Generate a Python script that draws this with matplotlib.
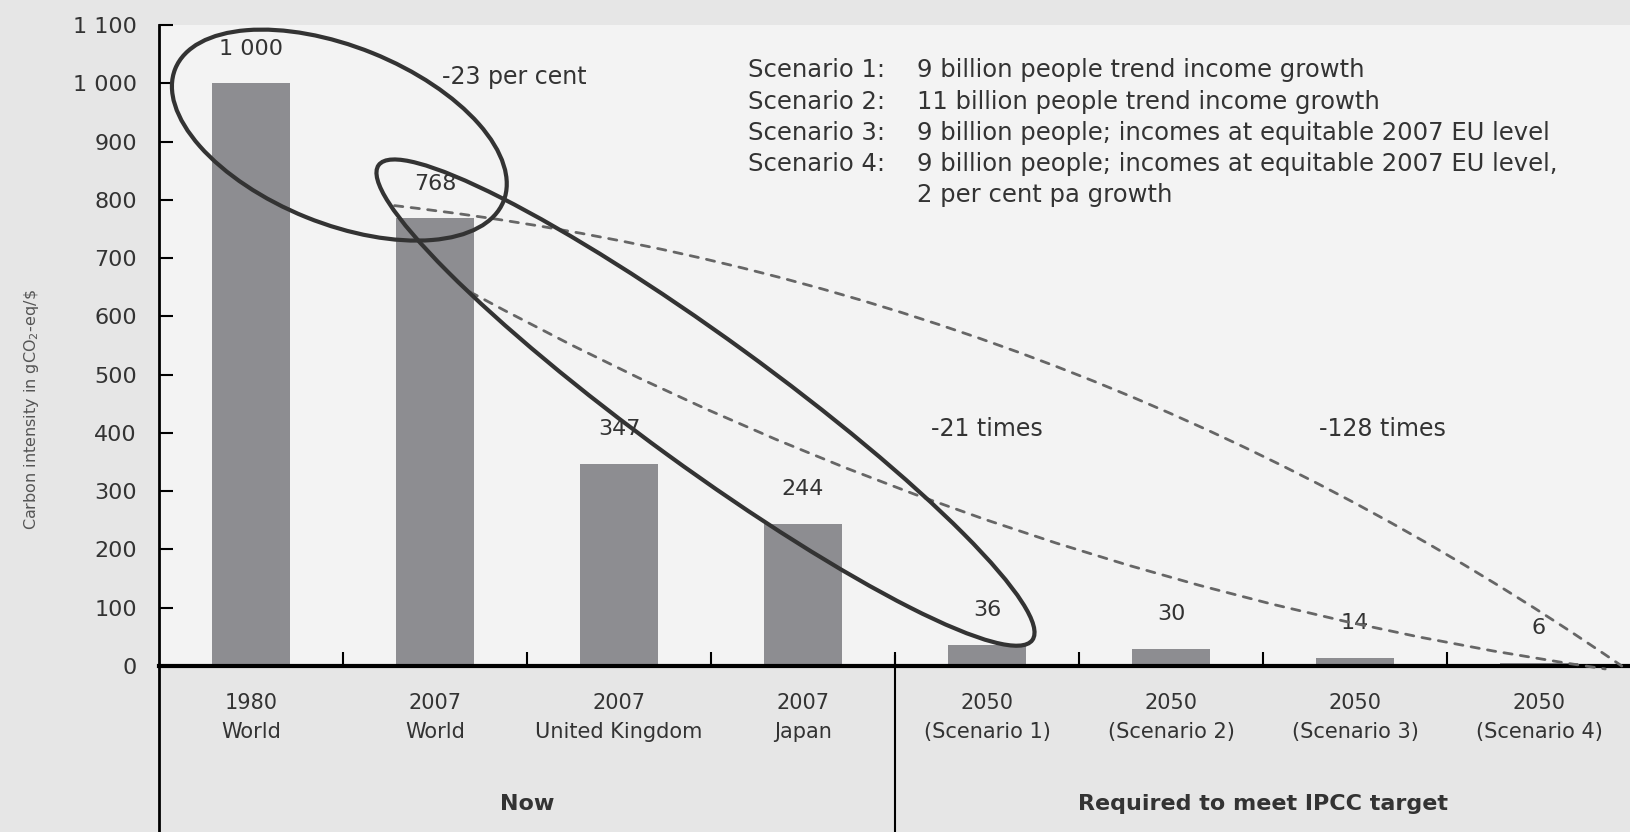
import matplotlib.pyplot as plt
from matplotlib.patches import Ellipse
from matplotlib.lines import Line2D
from matplotlib.transforms import ScaledTranslation, blended_transform_factory

plt.rcParams['font.family'] = ['DejaVu Sans']

# data
years = ["1980", "2007", "2007", "2007", "2050", "2050", "2050", "2050"]
places = ["World", "World", "United Kingdom", "Japan",
          "(Scenario 1)", "(Scenario 2)", "(Scenario 3)", "(Scenario 4)"]
intensity = [1000, 768, 347, 244, 36, 30, 14, 6]
value_labels = ["1 000", "768", "347", "244", "36", "30", "14", "6"]
groups = ["Now", "Required to meet IPCC target"]
yticks = list(range(0, 1101, 100))
ytick_labels = ["0", "100", "200", "300", "400", "500", "600", "700", "800", "900", "1 000", "1 100"]
scenario_names = ["Scenario 1:", "Scenario 2:", "Scenario 3:", "Scenario 4:", ""]
scenario_desc = [
    "9 billion people trend income growth",
    "11 billion people trend income growth",
    "9 billion people; incomes at equitable 2007 EU level",
    "9 billion people; incomes at equitable 2007 EU level,",
    "2 per cent pa growth",
]

fig = plt.figure(figsize=(16.31, 8.32), dpi=100, facecolor='#e6e6e6')
ax = fig.add_axes([0.0975, 0.1995, 0.9025, 0.7705])
ax.set_facecolor('#f3f3f3')

x = list(range(len(intensity)))
ax.bar(x, intensity, width=0.42, color='#8d8d91', zorder=2)

ax.set_xlim(-0.5, 7.5)
ax.set_ylim(0, 1100)
ax.set_yticks(yticks)
ax.set_yticklabels(ytick_labels)
ax.tick_params(axis='y', direction='in', length=10, width=1.5, pad=16,
               labelsize=16, labelcolor='#333333')
ax.set_xticks([i + 0.5 for i in x[:-1]])
ax.set_xticklabels([])
ax.tick_params(axis='x', direction='in', length=10, width=1.5)

for s in ['top', 'right']:
    ax.spines[s].set_visible(False)
ax.spines['left'].set_linewidth(2)
ax.spines['bottom'].set_linewidth(3)

ax.set_ylabel(r"Carbon intensity in gCO$_2$-eq/\$", fontsize=11.5, color='#555555')
ax.yaxis.set_label_coords(-0.08, 0.40)

# value labels
for xi, v, lab in zip(x, intensity, value_labels):
    ax.annotate(lab, (xi, v), xytext=(0, 25), textcoords='offset points',
                ha='center', va='center', fontsize=16, color='#333333')

bt = blended_transform_factory(ax.transData, ax.transAxes)

# category labels under the axis
for xi, yr, pl in zip(x, years, places):
    ax.text(xi, -0.08, yr + "\n" + pl, transform=bt,
            ha='center', va='center', fontsize=15, color='#333333', linespacing=1.6)

ax.text(1.5, -0.215, groups[0], transform=bt, ha='center', va='center', fontsize=16,
        fontweight='bold', color='#333333')
ax.text(5.5, -0.215, groups[1], transform=bt, ha='center', va='center', fontsize=16,
        fontweight='bold', color='#333333')

# y axis and group divider continue down to the edge
ax.add_line(Line2D([-0.5, -0.5], [-0.27, 0], transform=bt, color='black', lw=2, clip_on=False))
ax.add_line(Line2D([3.5, 3.5], [-0.27, 0.015], transform=bt, color='black', lw=1.5, clip_on=False))

# scenario notes
for i, (nm, desc) in enumerate(zip(scenario_names, scenario_desc)):
    yv = 1022 - i * 53.5
    ax.text(2.7, yv, nm, ha='left', va='center', fontsize=17.5, color='#333333')
    ax.text(3.62, yv, desc, ha='left', va='center', fontsize=17.5, color='#333333')

# ellipses around the compared values
def ring(cx, cy, w, h, ang):
    tr = fig.dpi_scale_trans + ScaledTranslation(cx, cy, ax.transData)
    ax.add_patch(Ellipse((0, 0), w, h, angle=ang, transform=tr, fill=False,
                         edgecolor='#333333', lw=3, zorder=4, clip_on=False))

ring(0.48, 911, 3.54, 1.77, -22)
ring(2.47, 452, 8.08, 1.29, -36)

# dashed reduction paths
ax.annotate("", xy=(7.45, 0), xytext=(0.78, 790), annotation_clip=False,
            arrowprops=dict(arrowstyle='-', linestyle=(0, (3, 3)), color='#666666', lw=2,
                            connectionstyle='arc3,rad=-0.125', shrinkA=0, shrinkB=0), zorder=3)
ax.annotate("", xy=(7.36, -5), xytext=(1.19, 642), annotation_clip=False,
            arrowprops=dict(arrowstyle='-', linestyle=(0, (3, 3)), color='#666666', lw=2,
                            connectionstyle='arc3,rad=0.09', shrinkA=0, shrinkB=0), zorder=3)

ax.text(1.43, 1010, "-23 per cent", ha='center', va='center', fontsize=17, color='#333333')
ax.text(4.0, 407, "-21 times", ha='center', va='center', fontsize=17, color='#333333')
ax.text(6.15, 407, "-128 times", ha='center', va='center', fontsize=17, color='#333333')

plt.savefig('out.png', dpi=100, facecolor=fig.get_facecolor())
